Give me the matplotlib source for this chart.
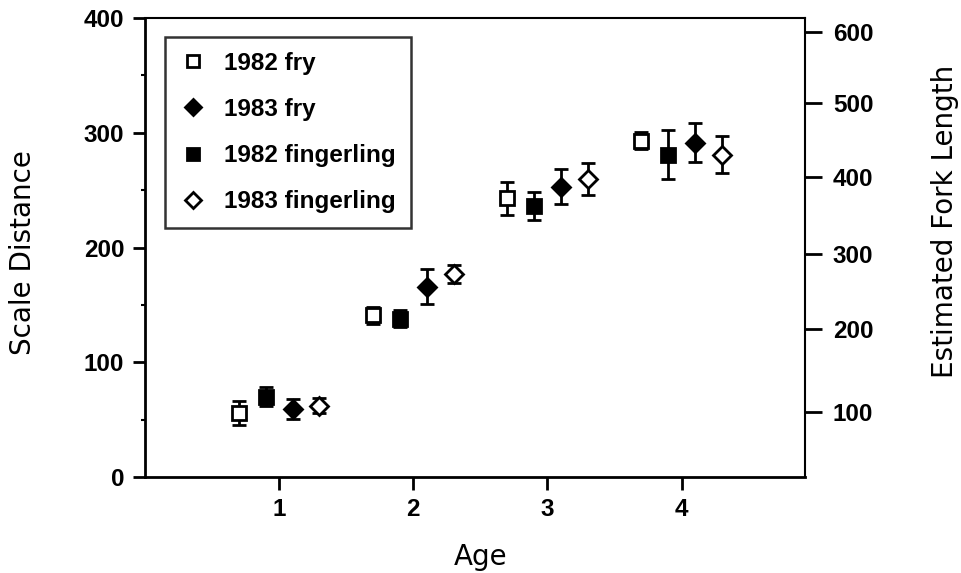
import numpy as np
import matplotlib
matplotlib.use("Agg")
import matplotlib.pyplot as plt
from matplotlib.lines import Line2D

# values (scale distance units)
ages = [1, 2, 3, 4]

fry_1982 = [56, 141, 243, 293]
fry_1982_err = [10.5, 7.5, 14.5, 7.5]

fing_1982 = [70, 138, 236, 281]
fing_1982_err = [8.5, 7.5, 12, 21]

fry_1983 = [59, 166, 253, 291.5]
fry_1983_err = [8.7, 15, 15.5, 17]

fing_1983 = [62, 177, 259.5, 281]
fing_1983_err = [6.5, 8, 14, 16]

labels = ["1982 fry", "1983 fry", "1982 fingerling", "1983 fingerling"]

# right axis: fork length tick labels and the scale distance where each sits
fork_ticks = [100, 200, 300, 400, 500, 600]
fork_at_scale = [56.4, 128.7, 194, 261.7, 325.6, 387.5]

tick_font = {"family": "Liberation Sans", "weight": "bold", "size": 17.5}
label_font = {"family": "DejaVu Sans", "size": 20}

fig = plt.figure(figsize=(9.61, 5.73), dpi=100)
ax = fig.add_axes([0.1509, 0.1675, 0.6868, 0.8011])

series = [
    (fry_1982, fry_1982_err, -0.3, "s", "white", 10),
    (fing_1982, fing_1982_err, -0.1, "s", "black", 10),
    (fry_1983, fry_1983_err, 0.1, "D", "black", 9),
    (fing_1983, fing_1983_err, 0.3, "D", "white", 9),
]
x = np.array(ages, dtype=float)
for vals, err, off, mk, fc, ms in series:
    ax.errorbar(x + off, vals, yerr=err, fmt=mk, mfc=fc, mec="black", mew=2,
                ms=ms, ecolor="black", elinewidth=2, capsize=5, capthick=2,
                zorder=3)

ax.set_xlim(0, 4.92)
ax.set_ylim(0, 400)
ax.set_xticks(ages)
ax.set_yticks([0, 100, 200, 300, 400])
ax.set_yticks([50, 150, 250, 350], minor=True)
ax.tick_params(axis="both", which="major", direction="out", length=9, width=2, pad=6)
ax.tick_params(axis="y", which="minor", direction="out", length=3, width=1.5)
for lab in ax.get_xticklabels() + ax.get_yticklabels():
    lab.set_fontproperties(tick_font)

ax.set_xlabel("Age", fontdict=label_font)
ax.xaxis.set_label_coords(0.508, -0.174)
ax.xaxis.label.set_verticalalignment("center")
ax.set_ylabel("Scale Distance", fontdict=label_font)
ax.yaxis.set_label_coords(-0.185, 0.488)
ax.yaxis.label.set_verticalalignment("center")

for side in ["left", "bottom"]:
    ax.spines[side].set_linewidth(2)
for side in ["top", "right"]:
    ax.spines[side].set_linewidth(1.5)

ax2 = ax.twinx()
ax2.set_ylim(ax.get_ylim())
ax2.set_yticks(fork_at_scale)
ax2.set_yticklabels([str(t) for t in fork_ticks])
ax2.tick_params(axis="y", direction="out", length=12, width=2, pad=8)
for lab in ax2.get_yticklabels():
    lab.set_fontproperties(tick_font)
ax2.set_ylabel("Estimated Fork Length", fontdict=label_font)
ax2.yaxis.set_label_coords(1.212, 0.558)
ax2.yaxis.label.set_verticalalignment("center")
for s in ax2.spines.values():
    s.set_visible(False)

handles = [
    Line2D([], [], ls="none", marker="s", mfc="white", mec="black", mew=2, ms=9),
    Line2D([], [], ls="none", marker="D", mfc="black", mec="black", mew=2, ms=8),
    Line2D([], [], ls="none", marker="s", mfc="black", mec="black", mew=2, ms=9),
    Line2D([], [], ls="none", marker="D", mfc="white", mec="black", mew=2, ms=8),
]
leg = ax.legend(handles, labels, loc="upper left", bbox_to_anchor=(0.03, 0.958),
                prop=tick_font, frameon=True, fancybox=False, borderpad=0.6,
                labelspacing=0.95, handletextpad=0.75, handlelength=1.1,
                borderaxespad=0)
leg.get_frame().set_edgecolor("black")
leg.get_frame().set_linewidth(1.8)

fig.savefig("out.png", dpi=100)
